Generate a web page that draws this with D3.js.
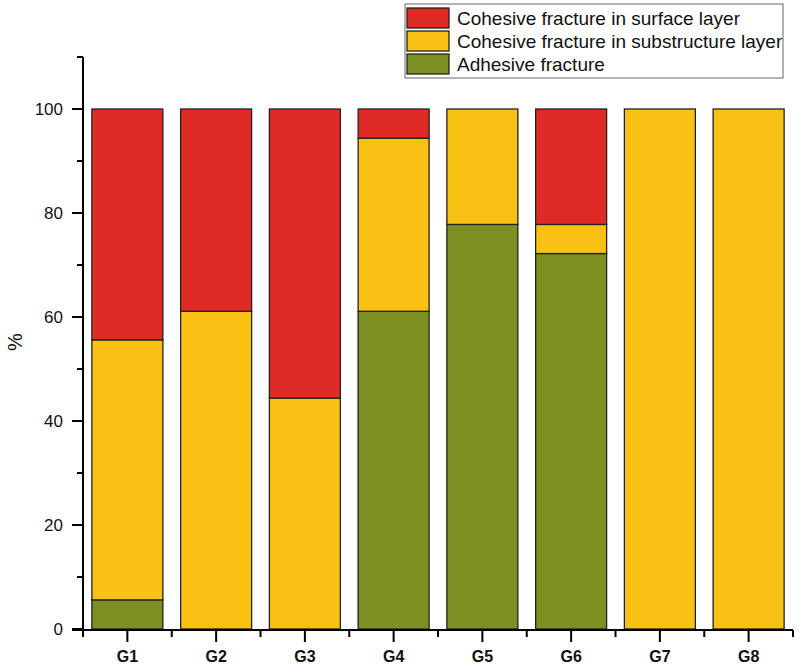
<!DOCTYPE html>
<html>
<head>
<meta charset="utf-8">
<script src="https://cdn.jsdelivr.net/npm/d3@7"></script>
<style>
    body { margin: 0; background: #fff; }
    svg { display: block; font-family: Arial, "Liberation Sans", sans-serif; }
</style>
</head>
<body>
<div id="chart"></div>
<script>
// Groups on the x axis
const groups = ["G1", "G2", "G3", "G4", "G5", "G6", "G7", "G8"];

// Percentages per failure mode (stacked bottom to top)
const adhesive = [5.6, 0, 0, 61.1, 77.8, 72.2, 0, 0];
const substructure = [50.0, 61.1, 44.4, 33.3, 22.2, 5.6, 100, 100];
const surface = [44.4, 38.9, 55.6, 5.6, 0, 22.2, 0, 0];

const seriesNames = [
    "Adhesive fracture",
    "Cohesive fracture in substructure layer",
    "Cohesive fracture in surface layer"
];
const legendOrder = [
    "Cohesive fracture in surface layer",
    "Cohesive fracture in substructure layer",
    "Adhesive fracture"
];
const yTicks = [0, 20, 40, 60, 80, 100];
const yMinorTicks = [10, 30, 50, 70, 90, 110];

const colors = {
    "Adhesive fracture": "#7e8f22",
    "Cohesive fracture in substructure layer": "#f8c114",
    "Cohesive fracture in surface layer": "#e02a26"
};

const width = 800, height = 666;
const margin = { top: 57, right: 7, bottom: 36, left: 83 };

// Build rows for the stack layout
const rows = groups.map((g, i) => ({
    group: g,
    "Adhesive fracture": adhesive[i],
    "Cohesive fracture in substructure layer": substructure[i],
    "Cohesive fracture in surface layer": surface[i]
}));
const stacked = d3.stack().keys(seriesNames)(rows);

const svg = d3.select("#chart")
    .append("svg")
    .attr("width", width)
    .attr("height", height);

const x = d3.scaleBand()
    .domain(groups)
    .range([margin.left, width - margin.right])
    .paddingInner(0.2)
    .paddingOuter(0.1);

const y = d3.scaleLinear()
    .domain([0, 110])
    .range([height - margin.bottom - 1, margin.top]);

// Bars
svg.append("g")
    .selectAll("g")
    .data(stacked)
    .join("g")
    .attr("fill", d => colors[d.key])
    .selectAll("rect")
    .data(d => d.filter(s => s[1] - s[0] > 0))
    .join("rect")
    .attr("x", d => x(d.data.group))
    .attr("y", d => y(d[1]))
    .attr("width", x.bandwidth())
    .attr("height", d => y(d[0]) - y(d[1]))
    .attr("stroke", "#222")
    .attr("stroke-width", 1.3);

// Y axis drawn by hand: spine, minor ticks, major ticks, labels
const yAxis = svg.append("g");
yAxis.append("line")
    .attr("x1", margin.left).attr("x2", margin.left)
    .attr("y1", y(0) + 1).attr("y2", y(110))
    .attr("stroke", "#000").attr("stroke-width", 2);
yAxis.selectAll("line.yminor")
    .data(yMinorTicks)
    .join("line")
    .attr("class", "yminor")
    .attr("x1", margin.left - 6).attr("x2", margin.left)
    .attr("y1", d => y(d)).attr("y2", d => y(d))
    .attr("stroke", "#000").attr("stroke-width", 2);
yAxis.selectAll("line.ymajor")
    .data(yTicks)
    .join("line")
    .attr("class", "ymajor")
    .attr("x1", margin.left - 11).attr("x2", margin.left)
    .attr("y1", d => y(d)).attr("y2", d => y(d))
    .attr("stroke", "#000").attr("stroke-width", 2);
yAxis.selectAll("text")
    .data(yTicks)
    .join("text")
    .attr("x", margin.left - 20)
    .attr("y", d => y(d))
    .attr("dy", "0.36em")
    .attr("text-anchor", "end")
    .attr("font-size", 17)
    .attr("fill", "#111")
    .text(d => d);

// X axis: major ticks at bar centres, minor ticks at band edges
const baseY = y(0) + 1;
const edges = d3.range(groups.length + 1).map(i => margin.left + i * x.step());
const xAxis = svg.append("g");
xAxis.append("line")
    .attr("x1", margin.left - 11).attr("x2", width - margin.right)
    .attr("y1", baseY).attr("y2", baseY)
    .attr("stroke", "#000").attr("stroke-width", 2);
xAxis.selectAll("line.minor")
    .data(edges)
    .join("line")
    .attr("class", "minor")
    .attr("x1", d => d).attr("x2", d => d)
    .attr("y1", baseY).attr("y2", baseY + 7)
    .attr("stroke", "#000").attr("stroke-width", 2);
xAxis.selectAll("line.major")
    .data(groups)
    .join("line")
    .attr("class", "major")
    .attr("x1", d => x(d) + x.bandwidth() / 2)
    .attr("x2", d => x(d) + x.bandwidth() / 2)
    .attr("y1", baseY).attr("y2", baseY + 12)
    .attr("stroke", "#000").attr("stroke-width", 2);
xAxis.selectAll("text")
    .data(groups)
    .join("text")
    .attr("x", d => x(d) + x.bandwidth() / 2)
    .attr("y", 662)
    .attr("text-anchor", "middle")
    .attr("font-size", 16)
    .attr("font-weight", "bold")
    .attr("fill", "#111")
    .text(d => d);

// Y axis title
svg.append("text")
    .attr("transform", "translate(22,342) rotate(-90)")
    .attr("text-anchor", "middle")
    .attr("font-size", 20)
    .attr("fill", "#111")
    .text("%");

// Legend
const legend = svg.append("g").attr("transform", "translate(405,4)");
legend.append("rect")
    .attr("width", 378).attr("height", 74)
    .attr("fill", "#fff")
    .attr("stroke", "#666").attr("stroke-width", 1);
const item = legend.selectAll(".item")
    .data(legendOrder)
    .join("g")
    .attr("class", "item")
    .attr("transform", (d, i) => `translate(2,${4 + i * 23})`);
item.append("rect")
    .attr("width", 42).attr("height", 20)
    .attr("fill", d => colors[d])
    .attr("stroke", "#222").attr("stroke-width", 1.3);
item.append("text")
    .attr("x", 50).attr("y", 17)
    .attr("font-size", 19)
    .attr("fill", "#111")
    .text(d => d);
</script>
</body>
</html>
